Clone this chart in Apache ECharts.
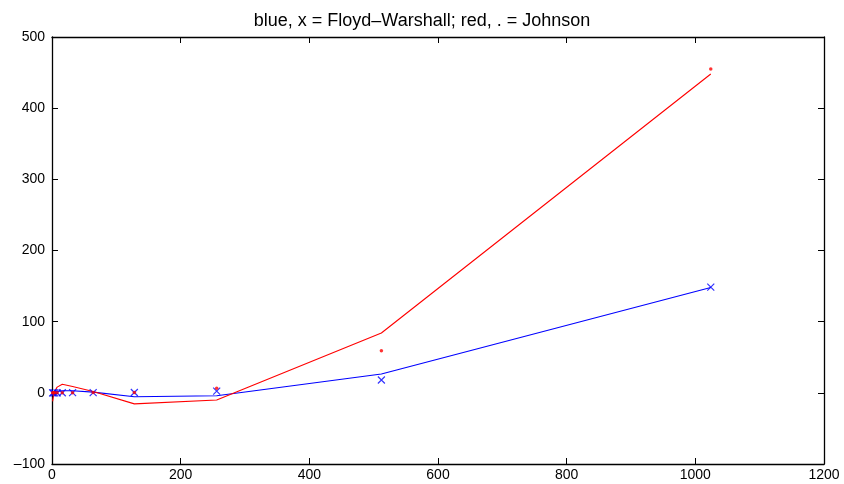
<!DOCTYPE html>
<html><head><meta charset="utf-8">
<script src="https://cdn.jsdelivr.net/npm/echarts@6/dist/echarts.min.js"></script>
<style>html,body{margin:0;padding:0;background:#fff}#c{width:844px;height:484px}</style>
</head><body><div id="c"></div>
<script>
var sizes = [1, 2, 4, 8, 16, 32, 64, 128, 256, 512, 1024];
var floydMeasured = [0, 0, 0, 0, 0.1, 0.2, 0.3, 0.5, 2.5, 18, 148.5];
var johnsonMeasured = [0, 0, 0, 0, 0.1, 0.2, 0.4, 0.6, 6.5, 59, 455];
var floydFit = [-1, 0, 1, 2, 3, 3, 1, -5.4, -4, 26.5, 148];
var johnsonFit = [-12, -6, 2, 8, 12, 9, 2, -15.5, -10, 84, 448];
var xTicks = [0, 200, 400, 600, 800, 1000, 1200];
var yTicks = [-100, 0, 100, 200, 300, 400, 500];

function pairs(xs, ys){ return xs.map(function(x,i){ return [x, ys[i]]; }); }
var xPath = 'path://M0,0L10,10M10,0L0,10';
var fontFam = 'Liberation Sans, Arial, Helvetica, sans-serif';
function fmt(v){ return String(v).replace('-', '\u2013'); }

var chart = echarts.init(document.getElementById('c'), null, {renderer:'canvas'});
var axisCommon = {
  axisLine:{show:true, onZero:false, lineStyle:{color:'#000', width:1.3}},
  axisTick:{show:true, inside:true, length:6, lineStyle:{color:'#000', width:1}},
  splitLine:{show:false}
};
chart.setOption({
  animation:false,
  backgroundColor:'#fff',
  title:{text:'blue, x = Floyd\u2013Warshall; red, . = Johnson', left:'center', top:7,
    textStyle:{fontFamily:fontFam, fontSize:18, fontWeight:'normal', color:'#000'}},
  grid:{left:52, right:20, top:37, bottom:20},
  xAxis:[
    Object.assign({type:'value', min:0, max:1200, interval:200, position:'bottom',
      axisLabel:{color:'#000', fontFamily:fontFam, fontSize:14, margin:4, formatter:fmt}}, axisCommon),
    Object.assign({type:'value', min:0, max:1200, interval:200, position:'top',
      axisLabel:{show:false}}, axisCommon)
  ],
  yAxis:[
    Object.assign({type:'value', min:-100, max:500, interval:100, position:'left',
      axisLabel:{color:'#000', fontFamily:fontFam, fontSize:14, margin:7, formatter:fmt}}, axisCommon),
    Object.assign({type:'value', min:-100, max:500, interval:100, position:'right',
      axisLabel:{show:false}}, axisCommon)
  ],
  series:[
    {type:'line', data:pairs(sizes, floydFit), showSymbol:false, symbol:'none',
      lineStyle:{color:'#0000ff', width:1.1}, z:2},
    {type:'line', data:pairs(sizes, johnsonFit), showSymbol:false, symbol:'none',
      lineStyle:{color:'#ff0000', width:1.1}, z:3},
    {type:'scatter', data:pairs(sizes, floydMeasured), symbol:xPath, symbolSize:7,
      itemStyle:{color:'none', borderColor:'#0000ff', borderWidth:1.2}, z:4},
    {type:'scatter', data:pairs(sizes, johnsonMeasured), symbol:'circle', symbolSize:3.5,
      itemStyle:{color:'#ff0000'}, z:5}
  ]
});
</script></body></html>
